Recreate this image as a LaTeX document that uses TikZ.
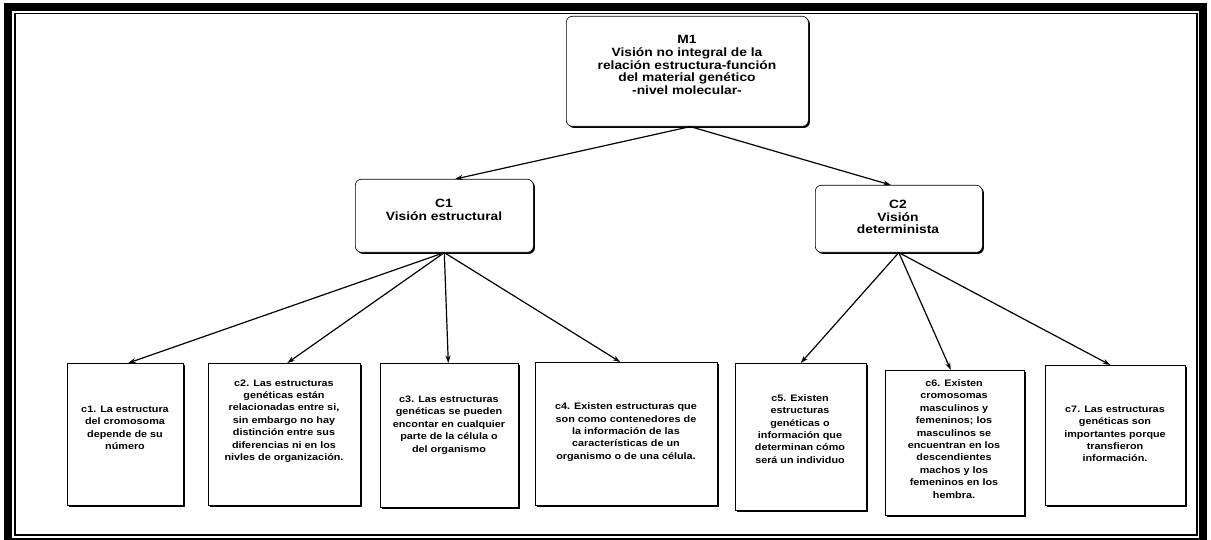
\documentclass[tikz,border=0pt]{standalone}
\usepackage{fontspec}
\setmainfont{Liberation Sans}[FakeStretch=1.15]
\usetikzlibrary{arrows.meta,shadows}

\tikzset{
  box/.style={draw=black, line width=0.6pt, fill=white, inner sep=0pt,
    anchor=north west,
    drop shadow={shadow xshift=1.6pt, shadow yshift=-1.6pt, fill=black, opacity=1}},
  roundbox/.style={box, rounded corners=6pt},
  bigtext/.style={align=center, inner sep=0pt,
    font=\fontsize{12}{12.8}\selectfont\bfseries},
  smalltext/.style={align=center, inner sep=0pt,
    font=\fontsize{9.4}{12.4}\selectfont\bfseries},
  arr/.style={line width=1.2pt, -{Stealth[length=7.5pt,width=5pt]}},
}

\begin{document}
\begin{tikzpicture}[x=1pt,y=-1pt]
\useasboundingbox (0,0) rectangle (1211,540);
\fill[white] (0,0) rectangle (1211,540);

% double frame
\draw[line width=8pt] (7.5,7.5) rectangle (1203,542);
\draw[line width=1.2pt] (15,13.5) rectangle (1197,535);

% top level
\node[roundbox, minimum width=242pt, minimum height=110pt] (M1) at (566,16) {};
\node[bigtext] (M1t) at (687,65) {M1\\Visión no integral de la\\relación estructura-función\\del material genético\\-nivel molecular-};

% second level
\node[roundbox, minimum width=178pt, minimum height=73pt] (C1) at (355,179) {};
\node[bigtext] (C1t) at (444,210) {C1\\Visión estructural};
\node[roundbox, minimum width=167pt, minimum height=67pt] (C2) at (815,185) {};
\node[bigtext] (C2t) at (898,217) {C2\\Visión\\determinista};

% leaves
\node[box, minimum width=116pt, minimum height=142pt] (c1) at (67,363) {};
\node[smalltext] (c1t) at (125,428) {c1. La estructura\\del cromosoma\\depende de su\\número};

\node[box, minimum width=152pt, minimum height=142pt] (c2) at (208,363) {};
\node[smalltext] (c2t) at (284,421) {c2. Las estructuras\\genéticas están\\relacionadas entre si,\\sin embargo no hay\\distinción entre sus\\diferencias ni en los\\nivles de organización.};

\node[box, minimum width=138pt, minimum height=144pt] (c3) at (380,363) {};
\node[smalltext] (c3t) at (449,425) {c3. Las estructuras\\genéticas se pueden\\encontar en cualquier\\parte de la célula o\\del organismo};

\node[box, minimum width=182pt, minimum height=143pt] (c4) at (535,362) {};
\node[smalltext] (c4t) at (626,432) {c4. Existen estructuras que\\son como contenedores de\\la información de las\\características de un\\organismo o de una célula.};

\node[box, minimum width=131pt, minimum height=147pt] (c5) at (735,363) {};
\node[smalltext] (c5t) at (800,429) {c5. Existen\\estructuras\\genéticas o\\información que\\determinan cómo\\será un individuo};

\node[box, minimum width=139pt, minimum height=145pt] (c6) at (885,370) {};
\node[smalltext] (c6t) at (954,439) {c6. Existen\\cromosomas\\masculinos y\\femeninos; los\\masculinos se\\encuentran en los\\descendientes\\machos y los\\femeninos en los\\hembra.};

\node[box, minimum width=140pt, minimum height=140pt] (c7) at (1045,365) {};
\node[smalltext] (c7t) at (1115,434) {c7. Las estructuras\\genéticas son\\importantes porque\\transfieron\\información.};

% connectors
\draw[arr] ([xshift=3pt]M1.south) -- ([xshift=11pt]C1.north);
\draw[arr] ([xshift=3pt]M1.south) -- ([xshift=-8pt]C2.north);

\draw[arr] (C1.south) -- ([xshift=3pt]c1.north);
\draw[arr] (C1.south) -- ([xshift=3pt]c2.north);
\draw[arr] (C1.south) -- ([xshift=-1pt]c3.north);
\draw[arr] (C1.south) -- ([xshift=-6pt]c4.north);

\draw[arr] (C2.south) -- (c5.north);
\draw[arr] (C2.south) -- ([xshift=-4pt]c6.north);
\draw[arr] (C2.south) -- ([xshift=-5pt]c7.north);
\end{tikzpicture}
\end{document}
